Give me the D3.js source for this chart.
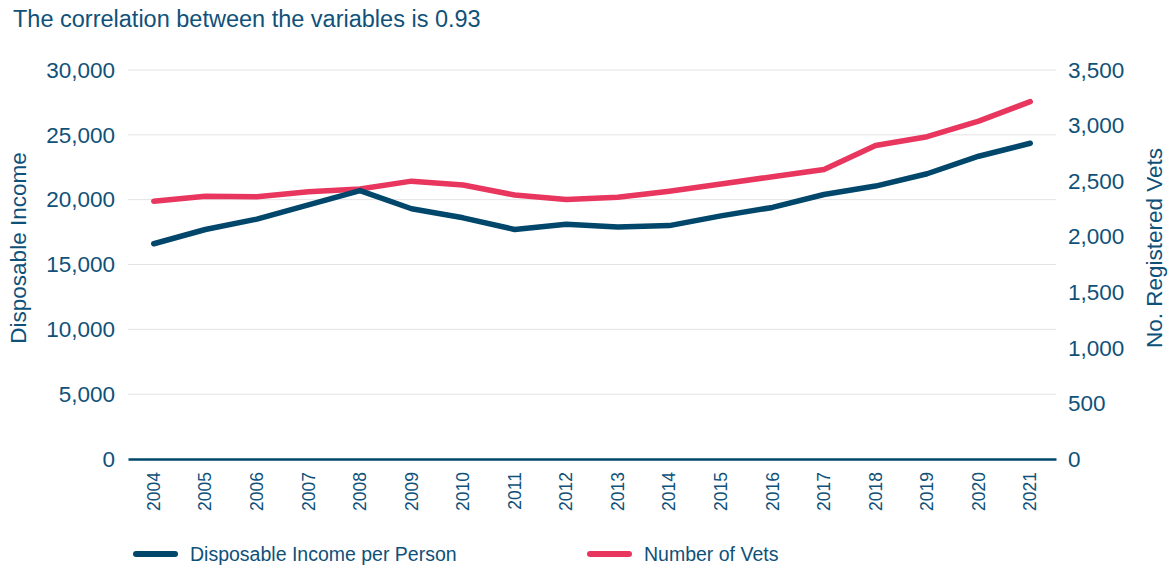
<!DOCTYPE html>
<html><head><meta charset="utf-8">
<script src="https://cdn.jsdelivr.net/npm/d3@7"></script>
<style>
html,body{margin:0;padding:0;background:#fff;}
svg text{font-family:"Liberation Sans",Arial,Helvetica,sans-serif;}
</style></head>
<body><svg id="chart" width="1171" height="570"></svg>
<script>
const years = ["2004","2005","2006","2007","2008","2009","2010","2011","2012","2013","2014","2015","2016","2017","2018","2019","2020","2021"];
const income = [16600,17700,18500,19600,20700,19300,18600,17700,18100,17900,18000,18750,19400,20400,21050,22000,23350,24350];
const vets = [2320,2365,2360,2405,2430,2500,2465,2375,2335,2355,2410,2475,2540,2605,2820,2900,3040,3215];
const leftTicks = [0,5000,10000,15000,20000,25000,30000];
const rightTicks = [0,500,1000,1500,2000,2500,3000,3500];
const title = "The correlation between the variables is 0.93";
const leftLabel = "Disposable Income";
const rightLabel = "No. Registered Vets";
const seriesNames = ["Disposable Income per Person","Number of Vets"];

const BLUE = "#00476b", PINK = "#e8365f", TEXT = "#0f5179", GRID = "#e3e3e3";
const FONT = "Liberation Sans, Arial, sans-serif";
const svg = d3.select("#chart");
const L = 128, R = 1056, T = 70, B = 459;

const x = d3.scaleBand().domain(years).range([L, R]);
const yL = d3.scaleLinear().domain([0,30000]).range([B, T]);
const yR = d3.scaleLinear().domain([0,3500]).range([B, T]);

svg.append("text").attr("x", 13).attr("y", 27).attr("fill", TEXT)
  .attr("font-size", 23.5).text(title);

// gridlines
svg.append("g").selectAll("line").data(leftTicks.filter(d=>d>0)).join("line")
  .attr("x1", L).attr("x2", R).attr("y1", d=>yL(d)).attr("y2", d=>yL(d))
  .attr("stroke", GRID).attr("stroke-width", 1);

// left axis
const gl = svg.append("g").attr("transform", `translate(${L},0)`)
  .call(d3.axisLeft(yL).tickValues(leftTicks).tickFormat(d3.format(",")).tickSize(0).tickPadding(13));
gl.select(".domain").remove();
gl.selectAll("text").attr("fill", TEXT).attr("font-size", 22.5).attr("font-family", FONT);

// right axis
const gr = svg.append("g").attr("transform", `translate(${R},0)`)
  .call(d3.axisRight(yR).tickValues(rightTicks).tickFormat(d3.format(",")).tickSize(0).tickPadding(12));
gr.select(".domain").remove();
gr.selectAll("text").attr("fill", TEXT).attr("font-size", 22.5).attr("font-family", FONT);

// x axis
const gx = svg.append("g").attr("transform", `translate(0,${B})`)
  .call(d3.axisBottom(x).tickSize(0).tickPadding(0));
gx.select(".domain").attr("stroke", BLUE).attr("stroke-width", 2.5);
gx.selectAll("text").attr("fill", TEXT).attr("font-size", 17.5)
  .attr("font-family", FONT)
  .attr("transform", "rotate(-90)").attr("text-anchor", "end")
  .attr("x", -13).attr("y", 0).attr("dy", "0.35em");

// axis labels
svg.append("text").attr("transform", `translate(26,248) rotate(-90)`)
  .attr("text-anchor", "middle").attr("fill", TEXT).attr("font-size", 22.5).text(leftLabel);
svg.append("text").attr("transform", `translate(1162,248) rotate(-90)`)
  .attr("text-anchor", "middle").attr("fill", TEXT).attr("font-size", 22.5).text(rightLabel);

const cx = d => x(d) + x.bandwidth()/2;
const lineL = d3.line().x((d,i)=>cx(years[i])).y(d=>yL(d));
const lineR = d3.line().x((d,i)=>cx(years[i])).y(d=>yR(d));

svg.append("path").datum(vets).attr("d", lineR).attr("fill","none")
  .attr("stroke", PINK).attr("stroke-width", 5.5).attr("stroke-linecap","round").attr("stroke-linejoin","round");
svg.append("path").datum(income).attr("d", lineL).attr("fill","none")
  .attr("stroke", BLUE).attr("stroke-width", 5.5).attr("stroke-linecap","round").attr("stroke-linejoin","round");

// legend
const leg = [{name: seriesNames[0], color: BLUE, x: 136}, {name: seriesNames[1], color: PINK, x: 590}];
const lg = svg.append("g");
leg.forEach(l => {
  lg.append("line").attr("x1", l.x).attr("x2", l.x+39).attr("y1", 554).attr("y2", 554)
    .attr("stroke", l.color).attr("stroke-width", 6).attr("stroke-linecap","round");
  lg.append("text").attr("x", l.x+54).attr("y", 561).attr("fill", TEXT).attr("font-size", 19.5).text(l.name);
});
</script></body></html>
